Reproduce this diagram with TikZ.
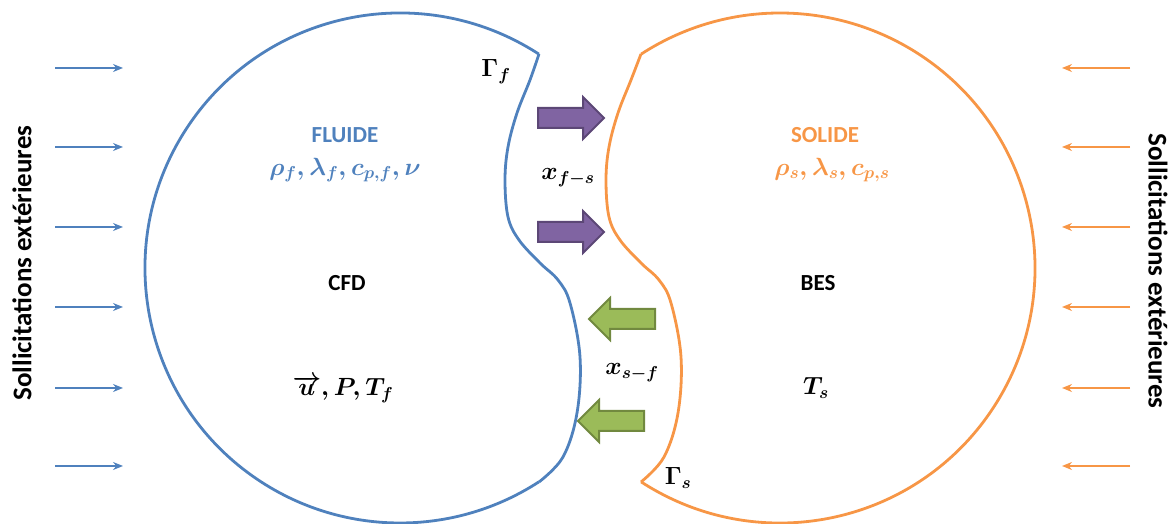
\documentclass[tikz,border=0pt]{standalone}
\usepackage{fontspec}
\setmainfont{Carlito}
\usetikzlibrary{arrows.meta,shapes.arrows}

\definecolor{bleuF}{HTML}{4F81BD}
\definecolor{orangeS}{HTML}{F79646}
\definecolor{violetF}{HTML}{8064A2}
\definecolor{violetB}{HTML}{5C4776}
\definecolor{vertF}{HTML}{9BBB59}
\definecolor{vertB}{HTML}{71893F}

\tikzset{
  fluide/.style={draw=bleuF, line width=2.8pt},
  solide/.style={draw=orangeS, line width=2.8pt},
  lbl/.style={font=\bfseries\fontsize{23}{27}\selectfont},
  mth/.style={font=\boldmath\fontsize{24}{28}\selectfont},
  fleche/.style={single arrow, single arrow head extend=11pt, minimum height=66pt,
    inner xsep=0pt, inner ysep=9pt, line width=2pt},
  versS/.style={fleche, fill=violetF, draw=violetB},
  versF/.style={fleche, fill=vertF, draw=vertB, shape border rotate=180},
  sollic/.style={line width=1.4pt, -{Stealth[length=10pt,width=8pt]}},
}

\begin{document}
\begin{tikzpicture}[x=1pt, y=1pt]
    \useasboundingbox (0,0) rectangle (1173,524);

    % centres des deux domaines
    \coordinate (cf) at (400,256);
    \coordinate (cs) at (780,256);

    % domaine fluide
    \draw[fluide] ([shift={(57:255)}]cf) arc[start angle=57, end angle=303, radius=255];
    \draw[fluide] plot [smooth, tension=0.6] coordinates {(539,470) (530,444) (517,411) (508,377) (505,344) (508,307) (519,284) (540,261) (558,244) (570,221) (580,167) (577,111) (563,67) (539,42)};

    % domaine solide
    \draw[solide] ([shift={(237:255)}]cs) arc[start angle=237, end angle=483, radius=255];
    \draw[solide] plot [smooth, tension=0.6] coordinates {(641,470) (631,444) (618,411) (609,377) (606,344) (609,307) (620,284) (641,261) (659,244) (671,221) (681,167) (678,111) (664,67) (641,42)};

    % textes fluide
    \node[lbl, bleuF] (fluide) at (345,389) {FLUIDE};
    \node[mth, bleuF] (propF) at (345,354) {$\rho_f, \lambda_f, c_{p,f}, \nu$};
    \node[lbl] (cfd) at (347,241) {CFD};
    \node[mth] (varF) at (343,135) {$\overrightarrow{u}, P, T_f$};

    % textes solide
    \node[lbl, orangeS] (solide) at (825,389) {SOLIDE};
    \node[mth, orangeS] (propS) at (832,354) {$\rho_s, \lambda_s, c_{p,s}$};
    \node[lbl] (bes) at (818,241) {BES};
    \node[mth] (varS) at (816,136) {$T_s$};

    % interfaces
    \node[mth] (gamF) at (496,452) {$\Gamma_f$};
    \node[mth] (gamS) at (678,46) {$\Gamma_s$};
    \node[mth] (xfs) at (568,346) {$x_{f-s}$};
    \node[mth] (xsf) at (632,151) {$x_{s-f}$};

    % echanges
    \node[versS] (fs1) at (566,406) {};
    \node[versS] (fs2) at (566,292) {};
    \node[versF] (sf1) at (627,205) {};
    \node[versF] (sf2) at (616,103) {};

    % sollicitations exterieures
    \node[lbl, font=\bfseries\fontsize{27}{30}\selectfont, rotate=90] (sollG) at (22,261) {Sollicitations extérieures};
    \node[lbl, font=\bfseries\fontsize{27}{30}\selectfont, rotate=-90] (sollD) at (1158,253) {Sollicitations extérieures};
    \foreach \y [count=\i] in {456,377,297,217,136,58} {
        \coordinate (g\i) at (55,\y);
        \coordinate (gb\i) at (123,\y);
        \coordinate (d\i) at (1130,\y);
        \coordinate (db\i) at (1062,\y);
        \draw[sollic, bleuF] (g\i) -- (gb\i);
        \draw[sollic, orangeS] (d\i) -- (db\i);
    }

\end{tikzpicture}
\end{document}
